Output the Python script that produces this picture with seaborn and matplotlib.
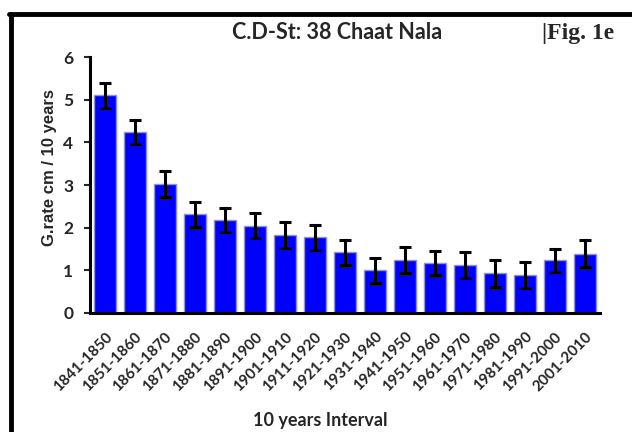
import matplotlib
matplotlib.use("Agg")
import matplotlib.pyplot as plt
import seaborn as sns
import pandas as pd
from matplotlib.lines import Line2D

intervals = ["1841-1850", "1851-1860", "1861-1870", "1871-1880", "1881-1890",
             "1891-1900", "1901-1910", "1911-1920", "1921-1930", "1931-1940",
             "1941-1950", "1951-1960", "1961-1970", "1971-1980", "1981-1990",
             "1991-2000", "2001-2010"]
rates = [5.10, 4.25, 3.03, 2.31, 2.18, 2.05, 1.83, 1.77, 1.42, 1.00,
         1.24, 1.17, 1.13, 0.93, 0.89, 1.24, 1.39]
errors = [0.30, 0.28, 0.30, 0.30, 0.28, 0.29, 0.30, 0.30, 0.30, 0.30,
          0.31, 0.28, 0.30, 0.31, 0.30, 0.27, 0.31]
yticks = [0, 1, 2, 3, 4, 5, 6]

sns.set_style("white")
df = pd.DataFrame({"interval": intervals, "rate": rates})

fig = plt.figure(figsize=(6.32, 4.32), dpi=100)
ax = fig.add_axes([0.1424, 0.2755, 0.8066, 0.5925])

sns.barplot(data=df, x="interval", y="rate", color="#0000FF", saturation=1,
            edgecolor="#8c8cff", linewidth=1.0, width=0.73, errorbar=None, ax=ax)
ax.errorbar(x=list(range(len(intervals))), y=rates, yerr=errors, fmt="none",
            ecolor="black", elinewidth=2.2, capsize=4, capthick=2.2)

ax.set_xlim(-0.5, len(intervals) - 0.5)
ax.set_ylim(0, 6)
ax.set_yticks(yticks)
ax.set_yticklabels([str(t) for t in yticks], fontfamily="Lato", fontweight="bold", fontsize=12.5)
ax.set_xticks(range(len(intervals)))
ax.set_xticklabels(intervals, rotation=45, ha="right", rotation_mode="anchor",
                   fontfamily="Lato", fontweight="bold", fontsize=11)
ax.tick_params(axis="y", direction="out", length=4, width=1.5, left=True, pad=8)
ax.tick_params(axis="x", length=0, pad=12)

for s in ["top", "right"]:
    ax.spines[s].set_visible(False)
for s in ["left", "bottom"]:
    ax.spines[s].set_color("black")
    ax.spines[s].set_linewidth(2.2)

ax.set_xlabel("10 years Interval", fontfamily="Lato", fontweight="bold", fontsize=13)
ax.xaxis.set_label_coords(0.451, -0.385)
ax.set_ylabel("G.rate cm / 10 years", fontfamily="Liberation Sans", fontweight="bold",
              fontsize=12)
ax.yaxis.set_label_coords(-0.064, 0.57)

fig.text(0.533, 0.91, "C.D-St: 38 Chaat Nala", ha="center", va="baseline",
         fontfamily="Lato", fontweight="bold", fontsize=15.5)
fig.text(0.857, 0.91, "|Fig. 1e", ha="left", va="baseline",
         fontfamily="Liberation Serif", fontweight="bold", fontsize=17)

fig.add_artist(Line2D([0.017, 0.017], [0.0, 0.968], transform=fig.transFigure,
                      color="black", linewidth=3.5))
fig.add_artist(Line2D([0.015, 1.0], [0.968, 0.968], transform=fig.transFigure,
                      color="black", linewidth=3.5))

fig.savefig("out.png", dpi=100)
